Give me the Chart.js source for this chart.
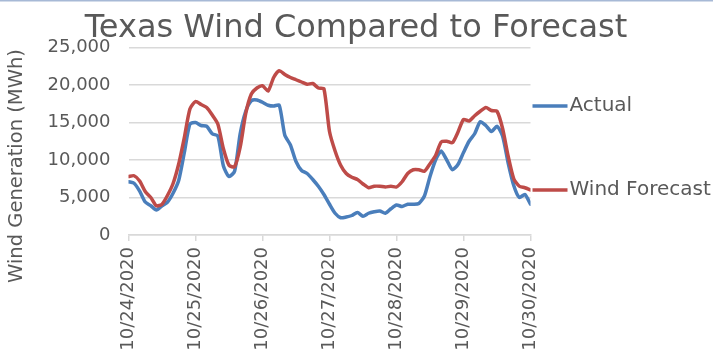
<!DOCTYPE html>
<html>
<head>
<meta charset="utf-8">
<script src="https://cdn.jsdelivr.net/npm/chart.js@4.4.1/dist/chart.umd.min.js"></script>
<style>
  html, body { margin: 0; padding: 0; background: #ffffff; }
  #wrap { width: 713px; height: 358px; }
</style>
</head>
<body>
<div id="wrap"><canvas id="c" width="713" height="358"></canvas></div>
<script>
// Day labels on the x axis (one every 24 hours)
const dateLabels = ['10/24/2020', '10/25/2020', '10/26/2020', '10/27/2020', '10/28/2020', '10/29/2020', '10/30/2020'];

// Y axis ticks
const yTicks = [0, 5000, 10000, 15000, 20000, 25000];

// Wind generation in MWh, sampled every 2 hours from 10/24 00:00 to 10/30 00:00
const actual = [
  7100, 6900, 5850, 4400, 3900, 3350, 3900, 4400, 5600, 7300, 11000, 14800,
  15000, 14600, 14500, 13500, 13200, 9200, 7800, 8500, 13500, 16500, 17900, 18000,
  17700, 17300, 17200, 17300, 13300, 12000, 9800, 8600, 8200, 7400, 6500, 5400,
  4100, 2900, 2300, 2400, 2600, 3000, 2500, 2900, 3100, 3200, 2900, 3500,
  4000, 3800, 4100, 4100, 4200, 5200, 7800, 10000, 11200, 10000, 8700, 9400,
  11000, 12500, 13500, 15100, 14600, 13800, 14500, 13200, 9600, 6600, 5000, 5400,
  4100
];

const forecast = [
  7800, 7900, 7200, 5800, 5000, 3900, 4100, 5300, 6900, 9500, 13000, 16800,
  17800, 17400, 17000, 16000, 14800, 11500, 9300, 9100, 11700, 16200, 18800, 19600,
  19900, 19200, 21000, 21900, 21400, 21000, 20700, 20400, 20100, 20200, 19600, 19500,
  13800, 11200, 9300, 8200, 7700, 7400, 6800, 6300, 6500, 6500, 6400, 6500,
  6400, 7100, 8200, 8700, 8700, 8500, 9500, 10600, 12400, 12500, 12300, 13700,
  15400, 15200, 15900, 16500, 17000, 16600, 16500, 14200, 10500, 7500, 6500, 6300,
  6000
];

const seriesNames = ['Actual', 'Wind Forecast'];
const seriesColors = ['#4a7ebb', '#be4b48'];
const textColor = '#595959';
const gridColor = '#d9d9d9';
const FONT = '"DejaVu Sans", Verdana, sans-serif';

const sampleHours = actual.map((_, i) => i * 2);
const toPoints = arr => arr.map((v, i) => ({ x: sampleHours[i], y: v }));

// Title, axis title, right-hand legend and the thin frame line at the top
const decorations = {
  id: 'decorations',
  afterDraw(chart) {
    const ctx = chart.ctx;
    const area = chart.chartArea;
    ctx.save();

    ctx.strokeStyle = '#a7b9d6';
    ctx.lineWidth = 1.5;
    ctx.beginPath();
    ctx.moveTo(0, 0.75);
    ctx.lineTo(chart.width, 0.75);
    ctx.stroke();

    ctx.fillStyle = textColor;
    ctx.font = '32px ' + FONT;
    ctx.textAlign = 'center';
    ctx.textBaseline = 'alphabetic';
    ctx.fillText('Texas Wind Compared to Forecast', 356, 37);

    ctx.save();
    ctx.translate(17, 166);
    ctx.rotate(-Math.PI / 2);
    ctx.font = '19.5px ' + FONT;
    ctx.textBaseline = 'middle';
    ctx.fillText('Wind Generation (MWh)', 0, 0);
    ctx.restore();

    const legendRows = [106, 190];
    ctx.font = '20px ' + FONT;
    ctx.textAlign = 'left';
    ctx.textBaseline = 'middle';
    seriesNames.forEach((name, i) => {
      const y = legendRows[i];
      ctx.strokeStyle = seriesColors[i];
      ctx.lineWidth = 3.5;
      ctx.beginPath();
      ctx.moveTo(area.right + 2, y);
      ctx.lineTo(area.right + 37, y);
      ctx.stroke();
      ctx.fillStyle = textColor;
      ctx.fillText(name, area.right + 39, y);
    });

    ctx.restore();
  }
};

new Chart(document.getElementById('c'), {
  type: 'line',
  data: {
    datasets: [
      {
        label: seriesNames[1],
        data: toPoints(forecast),
        borderColor: seriesColors[1],
        borderWidth: 3.5,
        pointRadius: 0,
        tension: 0.22,
        borderCapStyle: 'round',
        borderJoinStyle: 'round',
        fill: false
      },
      {
        label: seriesNames[0],
        data: toPoints(actual),
        borderColor: seriesColors[0],
        borderWidth: 3.5,
        pointRadius: 0,
        tension: 0.22,
        borderCapStyle: 'round',
        borderJoinStyle: 'round',
        fill: false
      }
    ]
  },
  options: {
    responsive: false,
    animation: false,
    devicePixelRatio: 1,
    layout: { padding: { top: 47.5, right: 182.5, bottom: 0, left: 0 } },
    plugins: {
      legend: { display: false },
      title: { display: false },
      tooltip: { enabled: false }
    },
    scales: {
      x: {
        type: 'linear',
        min: 0,
        max: 144,
        afterFit(scale) { scale.height = 123; },
        afterBuildTicks(scale) {
          scale.ticks = dateLabels.map((_, i) => ({ value: i * 24 }));
        },
        ticks: {
          autoSkip: false,
          maxRotation: 90,
          minRotation: 90,
          padding: 6,
          color: textColor,
          font: { family: FONT, size: 18 },
          callback: v => dateLabels[Math.round(v / 24)]
        },
        grid: {
          drawOnChartArea: false,
          drawTicks: true,
          tickLength: 6,
          color: gridColor,
          lineWidth: 1.5
        },
        border: { display: true, color: gridColor, width: 1.5 }
      },
      y: {
        min: 0,
        max: 25000,
        afterFit(scale) { scale.width = 128.5; },
        afterBuildTicks(scale) {
          scale.ticks = yTicks.map(v => ({ value: v }));
        },
        ticks: {
          padding: 18,
          color: textColor,
          font: { family: FONT, size: 18 },
          callback: v => v.toLocaleString('en-US')
        },
        grid: {
          drawTicks: false,
          color: gridColor,
          lineWidth: 1.5
        },
        border: { display: false }
      }
    }
  },
  plugins: [decorations]
});
</script>
</body>
</html>
